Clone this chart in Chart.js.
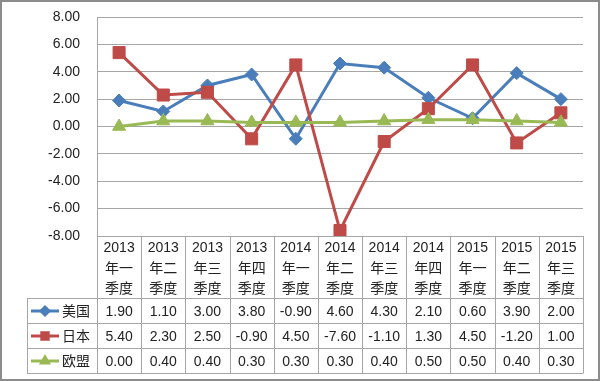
<!DOCTYPE html>
<html>
<head>
<meta charset="utf-8">
<script src="https://cdn.jsdelivr.net/npm/chart.js@4/dist/chart.umd.min.js"></script>
<style>
  html, body { margin: 0; padding: 0; background: #fff; }
  canvas { display: block; }
</style>
</head>
<body>
<canvas id="c" width="600" height="381"></canvas>
<script>
const categories = [
  ['2013','年一','季度'], ['2013','年二','季度'], ['2013','年三','季度'], ['2013','年四','季度'],
  ['2014','年一','季度'], ['2014','年二','季度'], ['2014','年三','季度'], ['2014','年四','季度'],
  ['2015','年一','季度'], ['2015','年二','季度'], ['2015','年三','季度']
];
const seriesNames = ['美国', '日本', '欧盟'];
const usValues = [1.90, 1.10, 3.00, 3.80, -0.90, 4.60, 4.30, 2.10, 0.60, 3.90, 2.00];
const jpValues = [5.40, 2.30, 2.50, -0.90, 4.50, -7.60, -1.10, 1.30, 4.50, -1.20, 1.00];
const euValues = [0.00, 0.40, 0.40, 0.30, 0.30, 0.30, 0.40, 0.50, 0.50, 0.40, 0.30];
const yTicks = [-8, -6, -4, -2, 0, 2, 4, 6, 8];

const colors = ['#4A7EBB', '#BE4B48', '#98B954'];
const styles = ['rectRot', 'rect', 'triangle'];
const radii = [6.5, 8.5, 7.5];
const allValues = [usValues, jpValues, euValues];

const NUM_FONT = '14px "Liberation Sans", Arial, sans-serif';
const CJK_FONT = '14px "Noto Sans CJK SC", sans-serif';
const GRID = '#a6a6a6';

const tablePlugin = {
  id: 'dataTable',
  beforeDraw(chart) {
    const ctx = chart.ctx;
    ctx.save();
    ctx.fillStyle = '#fff';
    ctx.fillRect(0, 0, chart.width, chart.height);
    ctx.restore();
  },
  afterDraw(chart) {
    const ctx = chart.ctx;
    const ca = chart.chartArea;
    const x = chart.scales.x;
    const n = categories.length;
    const colW = (ca.right - ca.left) / n;
    const top = Math.round(ca.bottom);
    const headH = 62, rowH = 25;
    const legL = 27;
    const bottom = top + headH + rowH * seriesNames.length;
    ctx.save();
    ctx.strokeStyle = GRID;
    ctx.lineWidth = 1;
    const line = (x1, y1, x2, y2) => {
      ctx.beginPath();
      ctx.moveTo(x1, y1);
      ctx.lineTo(x2, y2);
      ctx.stroke();
    };
    line(ca.left, top + 0.5, ca.right, top + 0.5);
    for (let r = 0; r <= seriesNames.length; r++) {
      const y = top + headH + r * rowH + 0.5;
      line(legL, y, ca.right, y);
    }
    for (let i = 0; i <= n; i++) {
      const xx = Math.round(ca.left + i * colW) + 0.5;
      line(xx, top, xx, bottom + 0.5);
    }
    line(legL + 0.5, top + headH, legL + 0.5, bottom + 0.5);

    // header
    ctx.fillStyle = '#222';
    ctx.textAlign = 'center';
    ctx.textBaseline = 'middle';
    categories.forEach((cat, i) => {
      const cx = x.getPixelForValue(i);
      cat.forEach((t, j) => {
        ctx.font = j === 0 ? NUM_FONT : CJK_FONT;
        ctx.fillText(t, cx, top + 12 + j * 20);
      });
    });

    // rows
    seriesNames.forEach((name, r) => {
      const cy = top + headH + r * rowH + rowH / 2 + 0.5;
      // legend key
      ctx.strokeStyle = colors[r];
      ctx.lineWidth = 3;
      line(legL + 4, cy, legL + 32, cy);
      Chart.helpers.drawPoint(ctx, {
        pointStyle: styles[r], radius: r === 1 ? 4.5 : 4, rotation: 0, borderWidth: 1
      }, legL + 18, cy);
      ctx.fillStyle = colors[r];
      ctx.fill();
      ctx.fillStyle = '#222';
      ctx.font = CJK_FONT;
      ctx.textAlign = 'left';
      ctx.fillText(name, legL + 35, cy);
      ctx.textAlign = 'center';
      ctx.font = NUM_FONT;
      allValues[r].forEach((v, i) => {
        ctx.fillText(v.toFixed(2), x.getPixelForValue(i), cy + 1);
      });
    });

    // outer border
    ctx.strokeStyle = '#8c8c8c';
    ctx.lineWidth = 2;
    ctx.strokeRect(1, 1, chart.width - 2, chart.height - 2);
    ctx.restore();
  }
};

const datasets = seriesNames.map((name, r) => ({
  label: name,
  data: allValues[r],
  borderColor: colors[r],
  backgroundColor: colors[r],
  borderWidth: 3,
  pointStyle: styles[r],
  pointRadius: radii[r],
  pointHoverRadius: radii[r],
  pointBackgroundColor: colors[r],
  pointBorderColor: colors[r],
  pointBorderWidth: 1,
  tension: 0,
  order: seriesNames.length - r
}));

new Chart(document.getElementById('c'), {
  type: 'line',
  data: { labels: categories.map(c => c.join('')), datasets },
  options: {
    responsive: false,
    animation: false,
    devicePixelRatio: 1,
    layout: { padding: { left: 0, top: 17, right: 17, bottom: 145 } },
    plugins: { legend: { display: false }, tooltip: { enabled: false } },
    scales: {
      x: { type: 'category', offset: true, display: false },
      y: {
        min: -8, max: 8,
        afterFit(s) { s.width = 97; s.paddingTop = 0; s.paddingBottom = 0; },
        afterBuildTicks(s) { s.ticks = yTicks.map(v => ({ value: v })); },
        ticks: {
          padding: 17,
          color: '#222',
          font: { family: '"Liberation Sans", Arial, sans-serif', size: 14 },
          callback: v => v.toFixed(2)
        },
        grid: { color: GRID, drawTicks: false, lineWidth: 1 },
        border: { display: true, color: GRID }
      }
    }
  },
  plugins: [tablePlugin]
});
</script>
</body>
</html>
